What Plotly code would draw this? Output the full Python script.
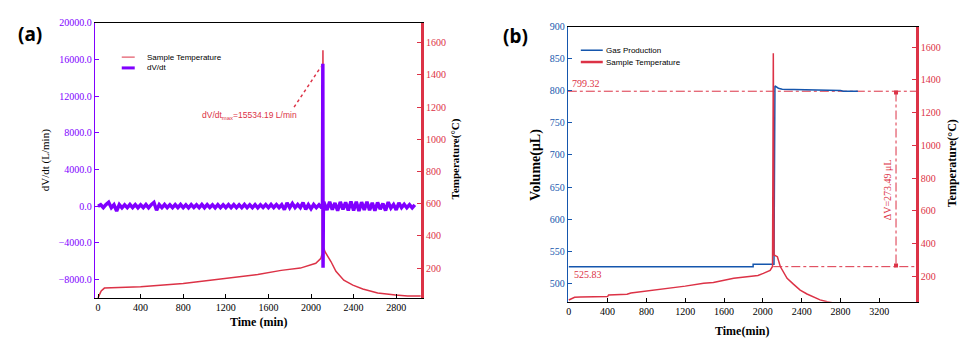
import plotly.graph_objects as go

# ---------------- data ----------------
# Panel (a): sample temperature (°C) vs time (min)
temp_a_time = [0, 30, 60, 200, 400, 800, 1200, 1500, 1720, 1900, 2045, 2093, 2105, 2112,
               2118, 2131, 2187, 2234, 2308, 2393, 2486, 2626, 2794, 2907, 3030]
temp_a = [15, 58, 76, 80, 84, 105, 138, 160, 186, 200, 230, 261, 290, 1553,
          330, 302, 241, 180, 125, 94, 70, 46, 33, 27, 27]

# Panel (a): dV/dt (L/min)
dvdt_pre = [
    0, 160, -150, 180, 420, -170, 150, -520, 170, -180,
    150, -160, 180, -150, 170, -170, 150, -150, 180, -180,
    160, 400, -440, 170, -160, 180, -150, 150, -170, 160,
    -150, 180, -160, 150, -180, 170, -150, 150, -160, 180,
    -170, 160, -150, 150, -180, 170, -160, 150, -150, 180,
    -150, 160, -170, 150, -160, 180, -150, 150, -170, 160,
    -180, 150, -150, 170, -160, 180, -150, 170, -150, 160,
    -380, 350, -170, 300, -150, 180, -160, 380, -350, 160,
    -280, 180, -160, 150, -170,
]
dvdt_peak = [200, 15534.19, -6700, 250]
dvdt_post = [
    300, -420, 480, -380, 350, -500, 460, -360, 420, -480,
    520, -460, 480, -520, 440, -400, 480, -440, 360, -480,
    400, -330, 280, -480, 440, -200, 180, -400, 360, -160,
    200, -170, 160, -180, 150,
]
dvdt_time = list(range(0, 2101, 25)) + [2108, 2111, 2113, 2116] + list(range(2125, 2976, 25))
dvdt = dvdt_pre + dvdt_peak + dvdt_post

# Panel (b): gas production (µL) and sample temperature (°C)
gas_time = [0, 1900, 1900, 2115, 2125, 2160, 2200, 2560, 2800, 2830, 2980]
gas_vol = [525.83, 525.83, 529.5, 529.5, 807.5, 804, 802.5, 802, 800.5, 799.32, 799.32]

temp_b_time = [0, 20, 60, 120, 400, 410, 600, 640, 870, 980, 1200, 1390, 1490, 1700, 1850,
               1950, 2005, 2075, 2100, 2108, 2115, 2150, 2180, 2250, 2315, 2385, 2455,
               2520, 2590, 2665, 2750]
temp_b = [55, 62, 72, 74, 76, 86, 90, 98, 116, 120, 140, 158, 162, 188, 200,
          205, 218, 236, 260, 1563, 330, 320, 260, 188, 152, 116, 92,
          74, 56, 44, 35]

vol_start = 525.83
vol_end = 799.32

x_ticks_a = [0, 400, 800, 1200, 1600, 2000, 2400, 2800]
x_ticks_b = [0, 400, 800, 1200, 1600, 2000, 2400, 2800, 3200]
dvdt_ticks = [-8000, -4000, 0, 4000, 8000, 12000, 16000, 20000]
temp_ticks = [200, 400, 600, 800, 1000, 1200, 1400, 1600]
vol_ticks = [500, 550, 600, 650, 700, 750, 800, 850, 900]

# ---------------- style ----------------
RED = "#dc3246"
PURPLE = "#8000ff"
BLUE = "#1556ad"
SERIF = "Liberation Serif"
SANS = "Liberation Sans"
W, H = 970, 350


def px(x):
    return x / W


def py(y):
    return 1 - y / H


fig = go.Figure()

# (a) temperature on y (right side), dV/dt on y2 overlay (left side)
fig.add_trace(go.Scatter(x=temp_a_time, y=temp_a, mode="lines", name="Sample Temperature",
                         line=dict(color=RED, width=1.5), xaxis="x", yaxis="y", showlegend=False))
fig.add_trace(go.Scatter(x=dvdt_time, y=dvdt, mode="lines", name="dV/dt",
                         line=dict(color=PURPLE, width=3.5, simplify=False),
                         xaxis="x", yaxis="y2", showlegend=False))

# (b) temperature on y4 (right), volume on y3 (left)
fig.add_trace(go.Scatter(x=temp_b_time, y=temp_b, mode="lines", name="Sample Temperature",
                         line=dict(color=RED, width=1.5), xaxis="x2", yaxis="y4", showlegend=False))
fig.add_trace(go.Scatter(x=[-10, 3580], y=[vol_end, vol_end], mode="lines",
                         line=dict(color=RED, width=1, dash="dashdot"),
                         xaxis="x2", yaxis="y3", showlegend=False, hoverinfo="skip"))
fig.add_trace(go.Scatter(x=[2108, 3580], y=[vol_start, vol_start], mode="lines",
                         line=dict(color=RED, width=1, dash="dashdot"),
                         xaxis="x2", yaxis="y3", showlegend=False, hoverinfo="skip"))
fig.add_trace(go.Scatter(x=[3373, 3373], y=[vol_end - 2, vol_start + 2], mode="lines+markers",
                         line=dict(color=RED, width=1, dash="dashdot"),
                         marker=dict(symbol="square", size=4, color=RED),
                         xaxis="x2", yaxis="y3", showlegend=False, hoverinfo="skip"))
fig.add_trace(go.Scatter(x=gas_time, y=gas_vol, mode="lines", name="Gas Production",
                         line=dict(color=BLUE, width=1.5), xaxis="x2", yaxis="y3", showlegend=False))

tickfont_black = dict(family=SERIF, size=10, color="black")

fig.update_layout(
    width=W, height=H,
    margin=dict(l=0, r=0, t=0, b=0),
    paper_bgcolor="white", plot_bgcolor="white",
    showlegend=False,
    xaxis=dict(domain=[px(93), px(420)], anchor="y", range=[-30, 3034],
               tickvals=x_ticks_a, ticks="inside", ticklen=4, tickcolor="black",
               showline=True, linecolor="black", linewidth=1, mirror=True,
               showgrid=False, zeroline=False, tickfont=tickfont_black),
    yaxis=dict(domain=[py(297), py(17)], anchor="x", side="right", range=[15, 1724],
               tickvals=temp_ticks, ticks="inside", ticklen=4, tickcolor=RED,
               showline=True, linecolor=RED, linewidth=2.5,
               showgrid=False, zeroline=False,
               tickfont=dict(family=SERIF, size=10, color=RED)),
    yaxis2=dict(overlaying="y", anchor="x", side="left", range=[-10000, 20000],
                tickvals=dvdt_ticks, tickformat=".1f", ticks="inside", ticklen=4, tickcolor=PURPLE,
                showline=True, linecolor=PURPLE, linewidth=1,
                showgrid=False, zeroline=False,
                tickfont=dict(family=SERIF, size=10, color=PURPLE)),
    xaxis2=dict(domain=[px(567), px(916)], anchor="y3", range=[-10, 3580],
                tickvals=x_ticks_b, ticks="inside", ticklen=4, tickcolor="black",
                showline=True, linecolor="black", linewidth=1, mirror=True,
                showgrid=False, zeroline=False, tickfont=tickfont_black),
    yaxis3=dict(domain=[py(301), py(21)], anchor="x2", side="left", range=[471, 900],
                tickvals=vol_ticks, ticks="inside", ticklen=4, tickcolor=BLUE,
                showline=True, linecolor=BLUE, linewidth=1,
                showgrid=False, zeroline=False,
                tickfont=dict(family=SERIF, size=10, color=BLUE)),
    yaxis4=dict(overlaying="y3", anchor="x2", side="right", range=[44, 1726],
                tickvals=temp_ticks, ticks="inside", ticklen=4, tickcolor=RED,
                showline=True, linecolor=RED, linewidth=2.5,
                showgrid=False, zeroline=False,
                tickfont=dict(family=SERIF, size=10, color=RED)),
)

ann = []


def label(text, x, y, size=10, color="black", family=SERIF, angle=0, xanchor="center",
          yanchor="middle", xref="paper", yref="paper", bold=False):
    if bold:
        text = "<b>" + text + "</b>"
    ann.append(dict(text=text, x=x, y=y, xref=xref, yref=yref, showarrow=False,
                    textangle=angle, xanchor=xanchor, yanchor=yanchor,
                    font=dict(family=family, size=size, color=color)))


# panel letters
label("(a)", px(28), py(28), size=19, family="Noto Sans", bold=True)
label("(b)", px(515), py(31), size=19, family="Noto Sans", bold=True)

# axis titles
label("dV/dt (L/min)", px(43), py(157), size=11, angle=-90)
label("Temperature(°C)", px(454), py(156), size=11, angle=-90, bold=True)
label("Time (min)", px(257), py(322), size=12, bold=True)
label("Volume(μL)", px(535), py(162), size=14, angle=-90, bold=True)
label("Temperature(°C)", px(952), py(160), size=12, angle=-90, bold=True)
label("Time(min)", px(742), py(331), size=12, bold=True)

# legends (drawn manually)
shapes = []


def legend_line(x0, x1, y, color, width):
    shapes.append(dict(type="line", xref="paper", yref="paper", x0=px(x0), x1=px(x1),
                       y0=py(y), y1=py(y), line=dict(color=color, width=width)))


legend_line(120, 133, 52, RED, 1)
legend_line(120, 133, 63, PURPLE, 3)
label("Sample Temperature", px(143), py(52), size=8, family=SANS, xanchor="left")
label("dV/dt", px(143), py(63), size=8, family=SANS, xanchor="left")

legend_line(580, 602, 45, BLUE, 1.5)
legend_line(580, 602, 57, RED, 2.5)
label("Gas Production", px(603), py(45), size=8, family=SANS, xanchor="left")
label("Sample Temperature", px(603), py(57), size=8, family=SANS, xanchor="left")

# (a) peak annotation
label("dV/dt<sub>max</sub>=15534.19 L/min", px(248), py(111), size=8.5, color=RED, family=SANS)
shapes.append(dict(type="line", xref="x", yref="y2", x0=1841, y0=10800, x1=2093, y1=15187,
                   line=dict(color=RED, width=1.5, dash="dot")))

# (b) value labels
label(f"{vol_end:.2f}", 10, vol_end, size=10, color=RED, xref="x2", yref="y3",
      xanchor="left", yanchor="bottom")
label(f"{vol_start:.2f}", 30, vol_start, size=10, color=RED, xref="x2", yref="y3",
      xanchor="left", yanchor="top")
label(f"ΔV={vol_end - vol_start:.2f} μL", 3280, 645, size=10, color=RED, xref="x2", yref="y3",
      angle=-90)

fig.update_layout(annotations=ann, shapes=shapes)

fig.write_html("out.html")
